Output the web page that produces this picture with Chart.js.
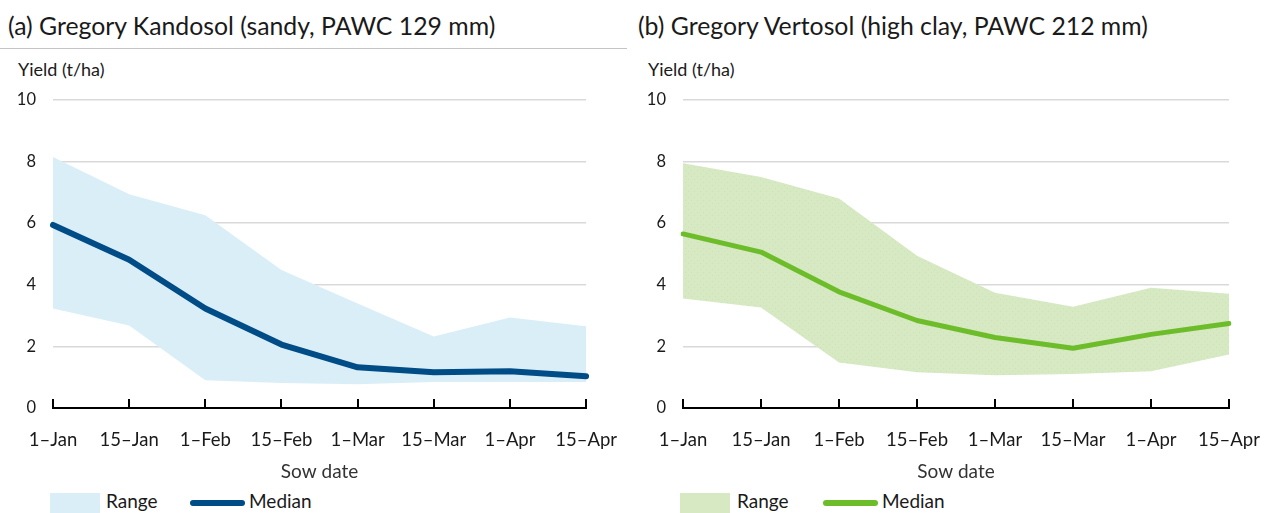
<!DOCTYPE html>
<html lang="en">
<head>
    <meta charset="UTF-8">
    <title>Sow date vs yield - Gregory</title>
    <script src="https://cdn.jsdelivr.net/npm/chart.js"></script>
    <style>
        body {
            margin: 0;
            padding: 0;
            background: #ffffff;
            font-family: Lato, "Open Sans", sans-serif;
            color: #1a1a1a;
        }

        .page {
            position: relative;
            width: 1266px;
            height: 513px;
            overflow: hidden;
        }

        .panel {
            position: absolute;
            top: 0;
            height: 513px;
        }

        .panel-title {
            position: absolute;
            top: 11px;
            font-size: 24.8px;
            white-space: nowrap;
        }

        .title-rule {
            position: absolute;
            left: 0;
            top: 48px;
            width: 627px;
            height: 1px;
            background: #c4c4c4;
        }

        .y-title {
            position: absolute;
            left: 18px;
            top: 58px;
            font-size: 18px;
        }

        .chart-box {
            position: absolute;
            left: 0;
            top: 73px;
            height: 410px;
        }

        .legend {
            position: absolute;
            top: 489px;
            font-size: 19px;
        }

        .legend span {
            position: absolute;
            white-space: nowrap;
        }

        .swatch {
            width: 50px;
            height: 22px;
            top: 4px;
        }

        .line-key {
            width: 55px;
            height: 6px;
            top: 11px;
            border-radius: 3px;
        }
    </style>
</head>
<body>
<div class="page">

    <!-- (a) Kandosol -->
    <div class="panel" style="left:0; width:630px;">
        <div class="panel-title" style="left:8px;">(a) Gregory Kandosol (sandy, PAWC 129 mm)</div>
        <div class="title-rule"></div>
        <div class="y-title">Yield (t/ha)</div>
        <div class="chart-box" style="width:630px;"><canvas id="chartA"></canvas></div>
        <div class="legend" style="left:0;">
            <span class="swatch" style="left:50px; background:#daeef8;"></span>
            <span style="left:106px;">Range</span>
            <span class="line-key" style="left:190px; background:#004c87;"></span>
            <span style="left:249px;">Median</span>
        </div>
    </div>

    <!-- (b) Vertosol -->
    <div class="panel" style="left:630px; width:660px;">
        <div class="panel-title" style="left:8px;">(b) Gregory Vertosol (high clay, PAWC 212 mm)</div>
        <div class="y-title">Yield (t/ha)</div>
        <div class="chart-box" style="width:660px;"><canvas id="chartB"></canvas></div>
        <div class="legend" style="left:0;">
            <span class="swatch" style="left:50px; background:#d6e9c3;"></span>
            <span style="left:107px;">Range</span>
            <span class="line-key" style="left:193px; background:#6dbd2a;"></span>
            <span style="left:252px;">Median</span>
        </div>
    </div>
</div>

<script>
    // sow dates along the x axis
    var sowDates = ['1–Jan', '15–Jan', '1–Feb', '15–Feb', '1–Mar', '15–Mar', '1–Apr', '15–Apr'];
    var yieldTicks = [0, 2, 4, 6, 8, 10];

    // (a) Gregory Kandosol, yield t/ha
    var kandosolMax = [8.15, 6.94, 6.26, 4.48, 3.39, 2.32, 2.94, 2.65];
    var kandosolMin = [3.23, 2.68, 0.90, 0.81, 0.77, 0.84, 0.84, 0.84];
    var kandosolMedian = [5.94, 4.81, 3.23, 2.06, 1.32, 1.16, 1.19, 1.03];

    // (b) Gregory Vertosol, yield t/ha
    var vertosolMax = [7.94, 7.50, 6.80, 4.94, 3.74, 3.29, 3.90, 3.71];
    var vertosolMin = [3.55, 3.26, 1.48, 1.16, 1.06, 1.10, 1.19, 1.74];
    var vertosolMedian = [5.65, 5.06, 3.77, 2.84, 2.29, 1.94, 2.39, 2.74];

    // speckled green fill like the original
    function dotPattern(base, dot) {
        var c = document.createElement('canvas');
        c.width = 6;
        c.height = 6;
        var g = c.getContext('2d');
        g.fillStyle = base;
        g.fillRect(0, 0, 6, 6);
        g.fillStyle = dot;
        g.fillRect(1, 1, 1, 1);
        g.fillRect(4, 4, 1, 1);
        return g.createPattern(c, 'repeat');
    }

    // upward tick marks on the x axis
    var upTicks = {
        id: 'upTicks',
        afterDraw: function (chart) {
            var xs = chart.scales.x;
            var c = chart.ctx;
            c.save();
            c.strokeStyle = '#000000';
            c.lineWidth = 2;
            c.beginPath();
            for (var i = 0; i < xs.ticks.length; i++) {
                var px = Math.round(xs.getPixelForTick(i));
                c.moveTo(px, xs.top);
                c.lineTo(px, xs.top - 9);
            }
            c.stroke();
            c.restore();
        }
    };

    function makeChart(id, maxVals, minVals, medVals, fillStyle, lineColor, lineWidth, rightPad) {
        var ctx = document.getElementById(id).getContext('2d');
        return new Chart(ctx, {
            type: 'line',
            data: {
                labels: sowDates,
                datasets: [
                    {
                        label: 'Median',
                        data: medVals,
                        borderColor: lineColor,
                        borderWidth: lineWidth,
                        borderJoinStyle: 'round',
                        borderCapStyle: 'round',
                        pointRadius: 0,
                        fill: false,
                        order: 0
                    },
                    {
                        label: 'Range max',
                        data: maxVals,
                        borderWidth: 0,
                        pointRadius: 0,
                        backgroundColor: fillStyle,
                        fill: '+1',
                        order: 1
                    },
                    {
                        label: 'Range min',
                        data: minVals,
                        borderWidth: 0,
                        pointRadius: 0,
                        fill: false,
                        order: 2
                    }
                ]
            },
            options: {
                responsive: true,
                maintainAspectRatio: false,
                animation: false,
                layout: { padding: { top: 10, right: rightPad, left: 0, bottom: 0 } },
                plugins: {
                    legend: { display: false },
                    tooltip: { enabled: false }
                },
                scales: {
                    x: {
                        offset: false,
                        grid: { display: false },
                        border: { display: true, color: '#000000', width: 2 },
                        ticks: {
                            autoSkip: false,
                            maxRotation: 0,
                            padding: 13,
                            color: '#1a1a1a',
                            font: { family: 'Lato', size: 18.5 }
                        },
                        title: {
                            display: true,
                            text: 'Sow date',
                            color: '#333333',
                            font: { family: 'Lato', size: 19 },
                            padding: { top: 0, bottom: 0 }
                        },
                        afterFit: function (scale) { scale.height = 75; }
                    },
                    y: {
                        min: 0,
                        max: 10,
                        afterBuildTicks: function (scale) {
                            scale.ticks = yieldTicks.map(function (v) { return { value: v }; });
                        },
                        grid: {
                            color: function (c) {
                                return c.tick && c.tick.value === 0 ? 'rgba(0,0,0,0)' : '#d9d9d9';
                            },
                            lineWidth: 1.5,
                            drawTicks: false
                        },
                        border: { display: false },
                        ticks: {
                            padding: 17,
                            color: '#1a1a1a',
                            font: { family: 'Lato', size: 16.5 }
                        },
                        afterFit: function (scale) { scale.width = 53; }
                    }
                }
            },
            plugins: [upTicks]
        });
    }

    makeChart('chartA', kandosolMax, kandosolMin, kandosolMedian, '#daeef8', '#004c87', 6, 42);
    makeChart('chartB', vertosolMax, vertosolMin, vertosolMedian,
        dotPattern('#d6e9c3', '#cbe2b4'), '#6dbd2a', 5, 61);
</script>
</body>
</html>
